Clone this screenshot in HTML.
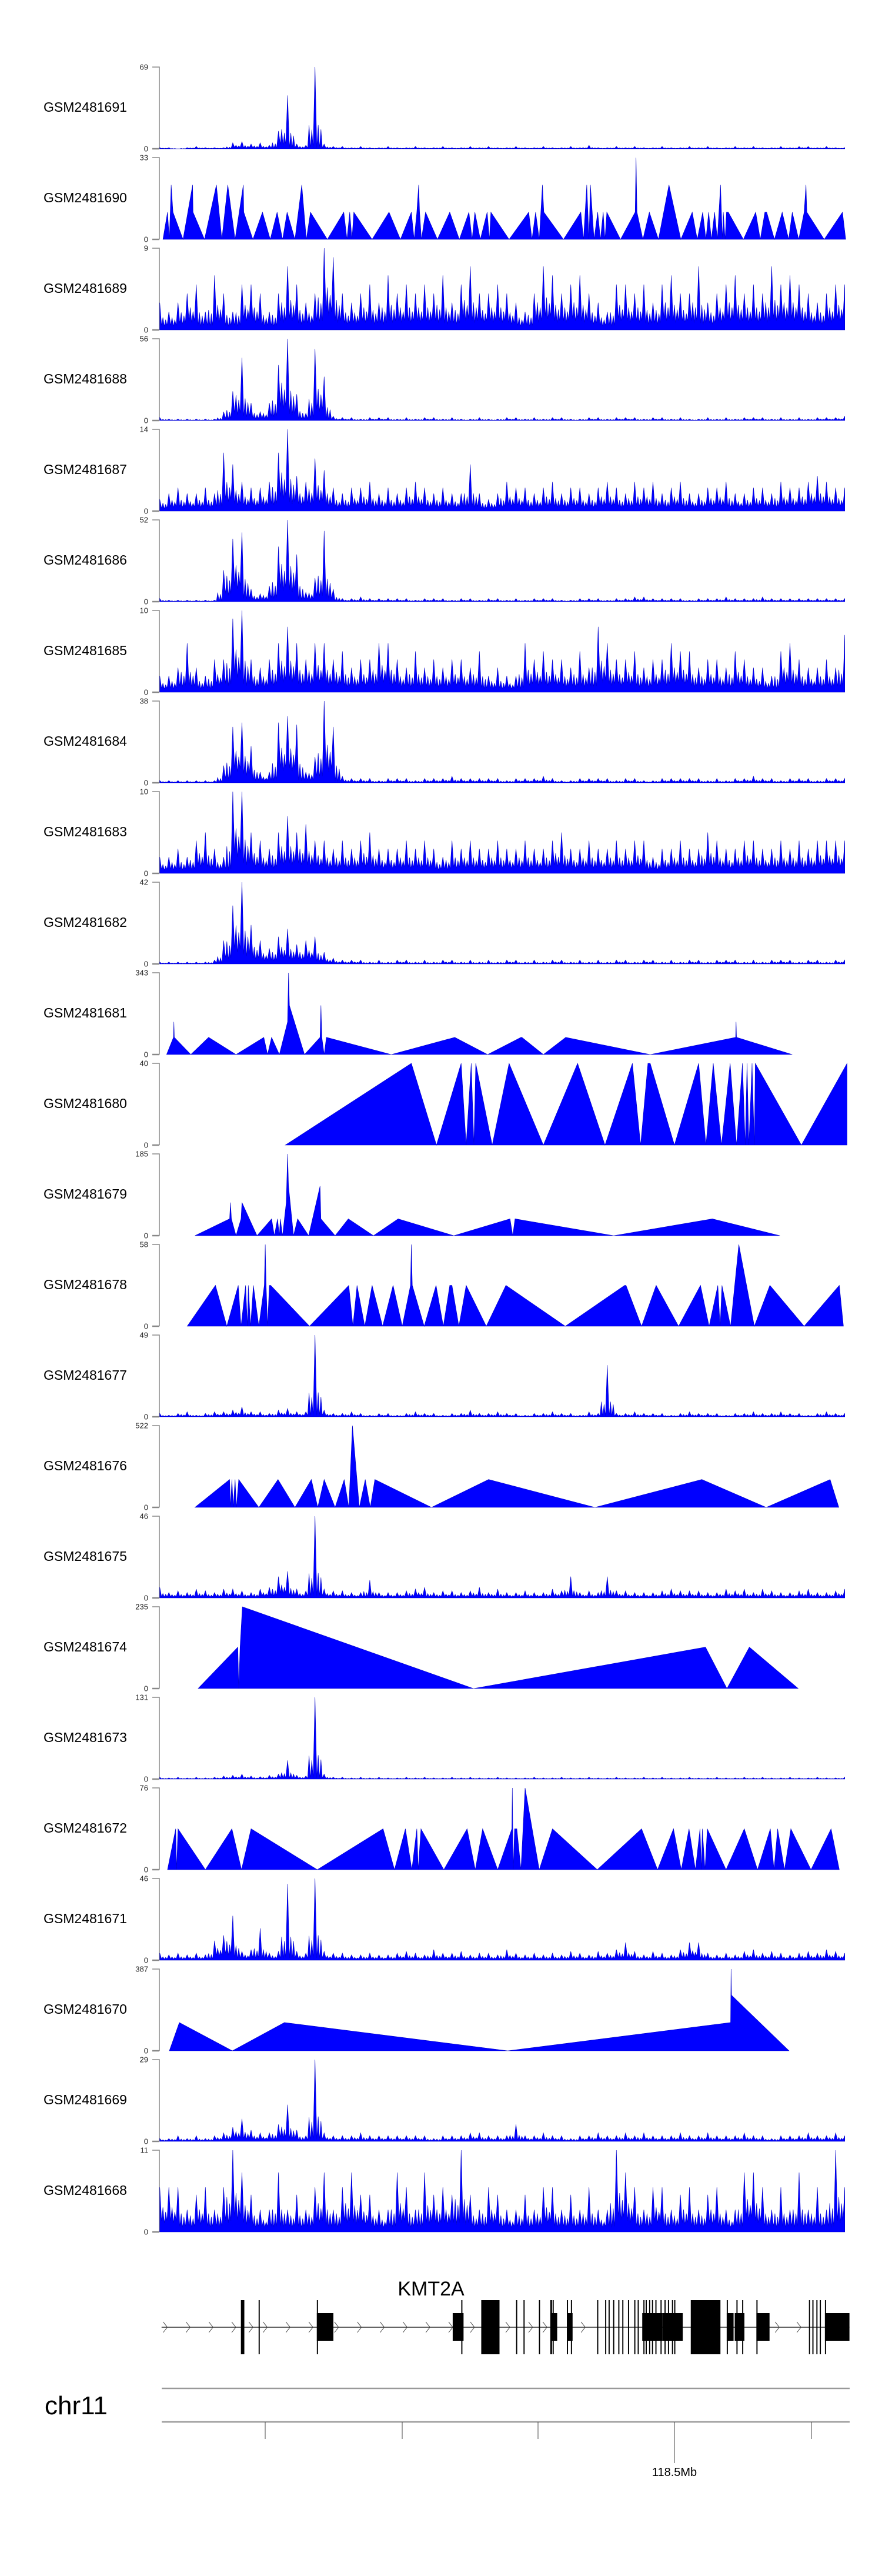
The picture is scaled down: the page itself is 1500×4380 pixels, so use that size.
<!DOCTYPE html>
<html><head><meta charset="utf-8"><title>KMT2A coverage tracks</title>
<style>
html,body{margin:0;padding:0;background:#fff;}
svg{display:block;}
text{font-family:"Liberation Sans",Arial,sans-serif;}
</style></head>
<body>
<svg id="chart" width="1500" height="4380" viewBox="0 0 1500 4380" xmlns="http://www.w3.org/2000/svg">
<g id="tracks"></g>
<g id="gene"></g>
<g id="axis"></g>
</svg>
<script>
// ---- track metadata ----
const trackNames = ["GSM2481691","GSM2481690","GSM2481689","GSM2481688","GSM2481687","GSM2481686","GSM2481685","GSM2481684","GSM2481683","GSM2481682","GSM2481681","GSM2481680","GSM2481679","GSM2481678","GSM2481677","GSM2481676","GSM2481675","GSM2481674","GSM2481673","GSM2481672","GSM2481671","GSM2481670","GSM2481669","GSM2481668"];
const trackMax = [69,33,9,56,14,52,10,38,10,42,343,40,185,58,49,522,46,235,131,76,46,387,29,11];

// ---- dense (binned) coverage series, evenly spaced across region ----
const cov1691 = [1,1,0,1,2,1,1,1,5,6,4,5,3,15,45,4,3,69,4,2,2,1,2,1,1,2,1,1,2,1,1,2,1,1,2,1,2,1,1,2,1,1,2,1,1,2,1,3,1,1,2,1,2,1,1,2,1,1,2,1,2,1,1,2,1,2,1,1,2,1,2,2,1,2,1,1];
const cov1689 = [3,2,3,4,5,2,6,4,2,5,5,4,2,4,7,5,3,4,9,8,4,3,4,5,3,6,4,5,4,5,4,6,3,5,7,4,4,5,4,3,2,4,7,6,4,5,6,4,3,2,5,5,4,5,3,5,6,4,4,7,3,4,5,6,4,5,4,7,5,6,5,4,3,4,5,5];
const cov1688 = [2,1,1,1,1,1,1,6,20,43,12,6,12,38,56,18,5,49,30,3,2,2,1,2,2,2,1,2,1,2,2,1,2,1,1,2,1,1,2,2,1,2,1,2,2,1,1,2,2,1,2,2,2,1,2,2,1,2,1,1,2,1,2,1,2,2,2,1,2,1,2,1,2,2,2,3];
const cov1687 = [2,3,4,3,3,4,3,10,8,5,4,4,5,10,14,6,5,9,7,4,3,4,4,5,3,4,3,4,5,4,3,4,3,3,8,3,2,3,5,4,4,3,4,5,3,4,4,3,4,5,4,3,5,4,5,3,4,5,3,3,4,4,5,3,3,4,4,3,5,4,4,5,6,5,4,4];
const cov1686 = [2,1,1,1,1,1,1,20,40,44,8,5,10,35,52,30,6,15,45,8,2,2,3,2,2,2,2,2,1,2,2,2,1,2,2,1,2,2,1,2,1,2,2,2,1,1,2,2,2,1,2,2,3,3,2,2,2,2,1,2,2,2,3,2,2,2,3,2,2,2,2,2,2,2,2,2];
const cov1685 = [2,2,3,6,3,2,4,4,9,10,4,3,4,6,8,6,4,6,6,4,5,3,4,4,6,6,4,3,5,3,4,3,4,4,3,5,2,3,2,2,6,4,5,4,4,3,5,3,8,6,4,4,5,3,4,4,6,5,5,3,4,4,3,5,4,3,3,2,5,6,4,3,3,4,3,7];
const cov1684 = [1,1,1,1,1,1,1,8,26,28,17,5,5,28,31,27,5,12,38,26,3,2,2,2,1,2,2,2,1,2,2,2,3,2,2,2,2,2,1,2,2,2,3,2,1,1,2,2,2,2,1,2,2,1,1,2,2,2,2,2,1,2,1,2,2,3,2,2,1,2,2,2,1,2,2,2];
const cov1683 = [2,2,3,2,4,5,3,2,10,10,5,4,3,5,7,5,6,4,4,3,4,3,4,5,3,3,3,4,3,4,3,2,4,3,4,3,3,4,3,3,4,3,3,4,5,3,3,4,3,3,4,3,4,4,2,3,3,4,3,3,5,4,3,3,4,4,3,3,4,3,4,3,4,4,4,4];
const cov1682 = [1,1,1,1,1,1,2,12,30,42,20,12,8,14,18,10,12,14,6,3,2,2,2,1,2,1,2,2,1,2,1,2,2,1,2,1,2,1,2,2,1,2,1,2,2,1,2,1,2,1,2,2,1,2,2,1,2,1,2,2,1,2,2,2,1,2,1,2,2,2,1,2,2,1,2,2];
const cov1677 = [2,1,2,3,1,2,3,3,4,6,3,3,2,4,5,3,3,49,4,2,2,3,2,1,2,2,1,2,3,2,2,1,2,2,4,2,2,3,2,2,1,2,2,3,2,2,1,3,2,31,2,2,3,2,2,2,1,2,3,2,2,2,1,2,2,3,2,2,3,2,2,1,2,3,2,2];
const cov1675 = [6,3,4,3,5,4,3,5,5,4,3,5,6,12,15,5,4,46,5,4,4,3,3,10,3,3,3,4,5,6,3,4,4,3,4,6,3,5,3,3,4,3,3,5,4,12,3,4,3,12,4,4,3,3,3,4,5,4,4,4,3,3,5,4,5,3,5,4,3,3,4,5,3,3,4,5];
const cov1673 = [3,2,3,2,3,2,3,5,6,8,5,4,6,8,30,6,5,131,8,3,3,2,3,2,3,2,2,3,2,3,2,2,3,2,3,2,2,3,2,2,2,3,2,2,3,2,2,3,2,2,3,2,2,3,2,3,2,2,3,2,2,3,2,2,3,2,3,2,2,3,2,2,3,2,2,3];
const cov1671 = [4,3,4,3,4,3,11,14,25,5,6,18,4,5,43,5,4,46,5,4,4,3,3,4,3,3,4,5,4,3,6,4,4,5,3,4,4,3,6,4,3,4,3,4,3,5,4,3,5,4,6,10,5,3,5,4,3,6,10,10,4,3,4,3,5,6,4,5,4,3,4,5,4,6,5,4];
const cov1669 = [1,1,2,1,2,1,2,3,5,8,4,3,3,6,13,4,2,29,3,2,2,2,3,2,2,2,2,2,2,2,1,2,2,2,3,3,2,2,2,6,2,2,3,2,2,1,2,2,3,2,2,3,2,3,2,2,2,3,2,2,3,2,2,2,3,2,2,1,2,2,2,3,2,2,3,2];
const cov1668 = [6,6,6,3,5,6,3,6,11,8,5,3,3,8,3,5,3,6,8,3,6,8,5,5,3,3,8,6,3,8,5,6,5,11,5,3,6,5,3,3,5,3,6,6,3,5,3,6,3,3,11,8,6,3,6,6,3,5,6,3,5,6,3,3,8,8,6,3,6,3,8,3,6,3,11,6];

// ---- sparse (piecewise) coverage series: positions (region bins) and values ----
const pos1690 = [22,32,36,40,44,66,87,88,113,139, 151,164,180,198,199,219,240,257,272,284, 294,311,326,336,345,382,418,425,431,436, 440,480,517,542,566,572,578,582,584,588, 597,623,650,671,692,699,705,717,732,737, 740,780,823,830,838,846,853,856,899,937, 943,950,955,958,966,974,980,986,990,994, 1024,1056,1058,1060,1073,1087,1107,1130,1156,1181, 1192,1204,1211,1217,1223,1230,1236,1243,1247,1249, 1253,1256,1260,1293,1320,1330,1340,1344,1361,1378, 1392,1400,1414,1426,1430,1432,1470,1510,1517];
const val1690 = [0,11,0,22,11,0,22,11,0,22, 0,22,0,22,11,0,11,0,11,0, 11,0,22,0,11,0,11,0,11,0, 11,0,11,0,11,0,11,22,11,0, 11,0,11,0,11,0,11,0,11,0, 11,0,11,0,11,0,22,11,0,11, 0,22,0,22,0,11,0,11,0,11, 0,11,33,11,0,11,0,22,0,11, 0,11,0,11,0,11,0,22,0,11, 0,11,11,0,11,0,11,11,0,11, 0,11,0,11,22,11,0,11,0];
const pos1681 = [30,45,46,47,83,122,182,243,251,260,277,295,297,299,332,366,368,370,375,380,522,661,733,806,807,808,855,904,1089,1276,1277,1278,1400];
const val1681 = [0,72,137,72,0,72,0,72,0,72,0,137,343,206,0,72,206,72,0,72,0,72,0,72,72,72,0,72,0,72,137,72,0];
const pos1680 = [290,566,621,675,686,697,703,707,743,780,855,930,990,1050,1068,1084,1089,1142,1195,1211,1227,1245,1264,1278,1291,1297,1301,1305,1312,1317,1319,1420,1520];
const val1680 = [0,40,0,40,0,40,0,40,0,40,0,40,0,40,0,40,40,0,40,0,40,0,40,0,40,0,40,0,40,0,40,0,40];
const pos1679 = [92,168,170,172,182,193,195,228,260,266,273,277,279,284,288,292,295,297,308,317,341,366,368,399,428,483,537,659,782,788,793,1009,1225,1373];
const val1679 = [0,38,75,38,0,38,75,0,38,0,38,0,38,0,38,75,185,112,0,38,0,112,38,0,38,0,38,0,38,0,38,0,38,0];
const pos1678 = [75,137,162,187,193,203,207,209,214,220, 232,244,246,248,251,255,258,343,429,438, 447,464,480,503,526,546,564,566,568,594, 620,636,650,655,670,686,730,773,903,1033, 1036,1070,1102,1151,1199,1218,1237,1242,1246,1265, 1283,1317,1351,1426,1503,1512];
const val1678 = [0,29,0,29,0,29,0,29,0,29, 0,29,58,29,0,29,29,0,29,0, 29,0,29,0,29,0,29,58,29,0, 29,0,29,29,0,29,0,29,0,29, 29,0,29,0,29,0,29,0,29,0, 58,0,29,0,29,0];
const pos1676 = [92,168,170,173,176,180,183,188,232,274,311,347,361,375,399,419,429,437,452,465,476,486,610,735,968,1202,1343,1483,1502];
const val1676 = [0,178,0,178,0,178,0,178,0,178,0,178,0,178,0,178,0,522,0,178,0,178,0,178,0,178,0,178,0];
const pos1674 = [99,186,188,191,196,702,1210,1257,1306,1413];
const val1674 = [0,119,0,119,235,0,119,0,119,0];
const pos1672 = [32,50,52,55,115,173,194,215,360,504, 529,553,567,578,581,587,637,688,706,722, 755,786,787,789,792,797,806,815,846,875, 973,1070,1105,1140,1157,1174,1188,1198,1201,1203, 1209,1214,1255,1295,1324,1352,1360,1368,1383,1397, 1441,1485,1503];
const val1672 = [0,38,0,38,0,38,0,38,0,38, 0,38,0,38,0,38,0,38,0,38, 0,38,76,0,38,38,0,76,0,38, 0,38,0,38,0,38,0,38,0,38, 0,38,0,38,0,38,0,38,0,38, 0,38,0];
const pos1670 = [36,58,174,288,777,1265,1266,1267,1393];
const val1670 = [0,134,0,134,0,134,387,263,0];

// ---- gene model (KMT2A) ----
const exonStart = [422,453,555,808,843,904,917,944,964,968,993,1000,1046,1060,1066,1074,1083,1090,1100,1111,1117,1127,1131,1137,1142,1148,1157,1164,1170,1177,1181,1210,1273,1290,1300,1325,1417,1423,1430,1436,1445, 555,793,964,993,1125,1160,1273,1287,1325,1445];
const exonEnd   = [428,455,557,810,875,906,919,946,967,970,995,1002,1048,1062,1068,1076,1085,1092,1102,1113,1119,1129,1133,1139,1144,1150,1159,1166,1172,1179,1183,1262,1275,1292,1302,1327,1419,1425,1432,1438,1447, 584,812,976,1003,1160,1196,1285,1304,1348,1488];
const exonKind  = ["T","T","T","T","T","T","T","T","T","T","T","T","T","T","T","T","T","T","T","T","T","T","T","T","T","T","T","T","T","T","T","T","T","T","T","T","T","T","T","T","T", "S","S","S","S","S","S","S","S","S","S"];
const chevronPos = [290,330,370,410,440,465,505,545,590,630,670,710,750,790,828,890,930,955,1022,1362,1400];

// ---- axis ----
const tickX = [451,684,915,1147,1380];
const tickLabels = ["","","","118.5Mb",""];

const NS = "http://www.w3.org/2000/svg";
function mk(tag, attrs, parent){
  const e = document.createElementNS(NS, tag);
  for (const k in attrs) e.setAttribute(k, attrs[k]);
  parent.appendChild(e); return e;
}
// scales
const TRACK_TOP0 = 114, TRACK_PITCH = 154, TRACK_H = 139;
function xBin(b){ return 260 + b / 1.2875; }
function trackTop(k){ return TRACK_TOP0 + TRACK_PITCH * k; }
function yVal(k, v){ return trackTop(k) + TRACK_H - (v / trackMax[k]) * TRACK_H; }
function geneX(u){ return u / 1.03; }

const dense = {0:cov1691,2:cov1689,3:cov1688,4:cov1687,5:cov1686,6:cov1685,7:cov1684,8:cov1683,9:cov1682,14:cov1677,16:cov1675,18:cov1673,20:cov1671,22:cov1669,23:cov1668};
const sparse = {1:[pos1690,val1690],10:[pos1681,val1681],11:[pos1680,val1680],12:[pos1679,val1679],13:[pos1678,val1678],15:[pos1676,val1676],17:[pos1674,val1674],19:[pos1672,val1672],21:[pos1670,val1670]};

const tracksG = document.getElementById('tracks');
for (let k = 0; k < trackNames.length; k++){
  const top = trackTop(k), base = top + TRACK_H;
  const g = mk('g', {}, tracksG);
  
  
  const lab = mk('text', {x:74, y:top + 68 + 8, 'font-size':23, fill:'#000'}, g);
  lab.textContent = trackNames[k];
  
  
  const ax = mk('path', {d:`M259 ${top}H271V${base}`, stroke:'#888', 'stroke-width':1.5, fill:'none'}, g);
  
  
  const bt = mk('path', {d:`M259 ${base}H271`, stroke:'#888', 'stroke-width':2.5, fill:'none'}, g);
  
  
  const tmax = mk('text', {x:252, y:top + 4.5, 'font-size':13, 'text-anchor':'end', fill:'#222'}, g);
  tmax.textContent = String(trackMax[k]);
  
  
  const t0 = mk('text', {x:252, y:base + 4.5, 'font-size':13, 'text-anchor':'end', fill:'#222'}, g);
  t0.textContent = '0';
  
  

  let d = '';
  if (dense[k]){
    const vals = dense[k], n = vals.length;
    const bx = i => xBin(15 + i * (1500 / (n - 1)));
    d = `M${bx(0).toFixed(1)} ${base}`;
    for (let i = 0; i < n; i++){
      d += `L${bx(i).toFixed(1)} ${yVal(k, vals[i]).toFixed(1)}`;
      if (i < n - 1){
        const a = bx(i), b = bx(i+1), w = b - a;
        const vmin = Math.min(vals[i], vals[i+1]);
        const vavg = (vals[i] + vals[i+1]) / 2;
        d += `L${(a + w*0.2).toFixed(1)} ${yVal(k, vmin*0.25).toFixed(1)}`;
        d += `L${(a + w*0.35).toFixed(1)} ${yVal(k, vavg*0.55).toFixed(1)}`;
        d += `L${(a + w*0.5).toFixed(1)} ${yVal(k, vmin*0.2).toFixed(1)}`;
        d += `L${(a + w*0.65).toFixed(1)} ${yVal(k, vavg*0.45).toFixed(1)}`;
        d += `L${(a + w*0.8).toFixed(1)} ${yVal(k, vmin*0.25).toFixed(1)}`;
      }
    }
    d += `L${bx(n-1).toFixed(1)} ${base}Z`;
  } else {
    const [ps, vs] = sparse[k];
    d = `M${xBin(ps[0]).toFixed(1)} ${base}`;
    for (let i = 0; i < ps.length; i++) d += `L${xBin(ps[i]).toFixed(1)} ${yVal(k, vs[i]).toFixed(1)}`;
    d += `L${xBin(ps[ps.length-1]).toFixed(1)} ${base}Z`;
  }
  const area = mk('path', {d, fill:'#0000ff', stroke:'#0000c8', 'stroke-width':0.6, 'stroke-linejoin':'miter'}, g);
  
  
}

// gene model
const geneG = document.getElementById('gene');
const LINE_Y = 3957;
const gl = mk('line', {x1:geneX(283), x2:geneX(1488), y1:LINE_Y, y2:LINE_Y, stroke:'#333', 'stroke-width':1.5}, geneG);


for (const c of chevronPos){
  const x = geneX(c);
  const ch = mk('path', {d:`M${x-4} ${LINE_Y-9}L${x+3} ${LINE_Y}L${x-4} ${LINE_Y+9}`, stroke:'#444', 'stroke-width':1, fill:'none'}, geneG);
  
  
}
for (let i = 0; i < exonStart.length; i++){
  const x1 = geneX(exonStart[i]), x2 = geneX(exonEnd[i]);
  const tall = exonKind[i] === 'T';
  const y1 = tall ? 3911 : 3933, y2 = tall ? 4003 : 3980;
  const r = mk('rect', {x:x1, y:y1, width:Math.max(1.4, x2 - x1), height:y2 - y1, fill:'#000'}, geneG);
  
  
}
const gname = mk('text', {x:733, y:3903, 'font-size':34, 'text-anchor':'middle', fill:'#000'}, geneG);
gname.textContent = 'KMT2A';



// genome axis
const axG = document.getElementById('axis');
for (const yy of [4061, 4118]){
  const l = mk('line', {x1:275, x2:1445, y1:yy, y2:yy, stroke:'#999', 'stroke-width':2.5}, axG);
  
  
}
const chr = mk('text', {x:76, y:4105, 'font-size':44, fill:'#000'}, axG);
chr.textContent = 'chr11';


for (let i = 0; i < tickX.length; i++){
  const major = tickLabels[i] !== '';
  const t = mk('line', {x1:tickX[i], x2:tickX[i], y1:4118, y2: major ? 4188 : 4147, stroke:'#444', 'stroke-width':1}, axG);
  
  
  if (major){
    const tl = mk('text', {x:tickX[i], y:4210, 'font-size':20, 'text-anchor':'middle', fill:'#000'}, axG);
    tl.textContent = tickLabels[i];
    
    
  }
}
</script>
</body></html>
